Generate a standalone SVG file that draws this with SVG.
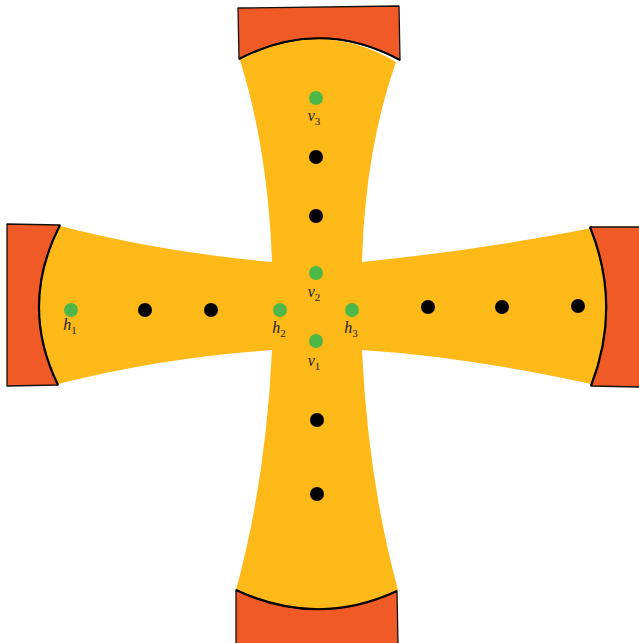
<svg xmlns="http://www.w3.org/2000/svg" width="639" height="643" viewBox="0 0 639 643">
<style>
.blk{fill:#EF5A27;stroke:#111;stroke-width:1.3;stroke-linejoin:round}
.arc{fill:none;stroke:#000;stroke-width:2.2}
.g{fill:#4DB848}
.k{fill:#000}
.lb{font-family:"Liberation Serif",serif;font-style:italic;font-size:16px;fill:#222;text-anchor:middle}
.sb{font-size:11px;font-style:normal}
</style>
<rect width="639" height="643" fill="#fff"/>
<g id="cross">
<path fill="#FDB918" d="M240,60 Q320,17 396,62 Q365,150 362,262 Q480,250 592,228 Q622,306 600,386 Q470,357 362,350 Q368,480 398,590 Q317,628 236,590 Q266,480 272,350 Q160,358 58,384 Q19,305 60,226 Q160,252 272,262 Q268,150 240,60 Z"/>
</g>
<g id="block-top">
<path class="blk" d="M238,8 L399,6 L400,60 Q320,17 239,59 Z"/>
<path class="arc" d="M400,60 Q320,17 239,59"/>
</g>
<g id="block-left">
<path class="blk" d="M7,224 L60,225 Q19,305 58,385 L7,386 Z"/>
<path class="arc" d="M60,225 Q19,305 58,385"/>
</g>
<g id="block-right">
<path class="blk" d="M590,227 L640,227 L640,387 L591,386 Q622,306 590,227 Z"/>
<path class="arc" d="M590,227 Q622,306 591,386"/>
</g>
<g id="block-bottom">
<path class="blk" d="M236,590 Q317,628 397,591 L398,644 L236,644 Z"/>
<path class="arc" d="M236,590 Q317,628 397,591"/>
</g>
<g id="v3"><circle class="g" cx="316" cy="98" r="7"/><text class="lb" x="314" y="121">v<tspan class="sb" dy="4">3</tspan></text></g>
<g id="v2"><circle class="g" cx="316" cy="273" r="7"/><text class="lb" x="314" y="297">v<tspan class="sb" dy="4">2</tspan></text></g>
<g id="v1"><circle class="g" cx="316" cy="341" r="7"/><text class="lb" x="314" y="366">v<tspan class="sb" dy="4">1</tspan></text></g>
<g id="h1"><circle class="g" cx="71" cy="310" r="7"/><text class="lb" x="70" y="330">h<tspan class="sb" dy="4">1</tspan></text></g>
<g id="h2"><circle class="g" cx="280" cy="310" r="7"/><text class="lb" x="279" y="333">h<tspan class="sb" dy="4">2</tspan></text></g>
<g id="h3"><circle class="g" cx="352" cy="310" r="7"/><text class="lb" x="351" y="333">h<tspan class="sb" dy="4">3</tspan></text></g>
<g id="dots">
<circle class="k" cx="316" cy="157" r="7"/>
<circle class="k" cx="316" cy="216" r="7"/>
<circle class="k" cx="317" cy="420" r="7"/>
<circle class="k" cx="317" cy="494" r="7"/>
<circle class="k" cx="145" cy="310" r="7"/>
<circle class="k" cx="211" cy="310" r="7"/>
<circle class="k" cx="428" cy="307" r="7"/>
<circle class="k" cx="502" cy="307" r="7"/>
<circle class="k" cx="578" cy="306" r="7"/>
</g>
<g id="connectors"/>
</svg>
